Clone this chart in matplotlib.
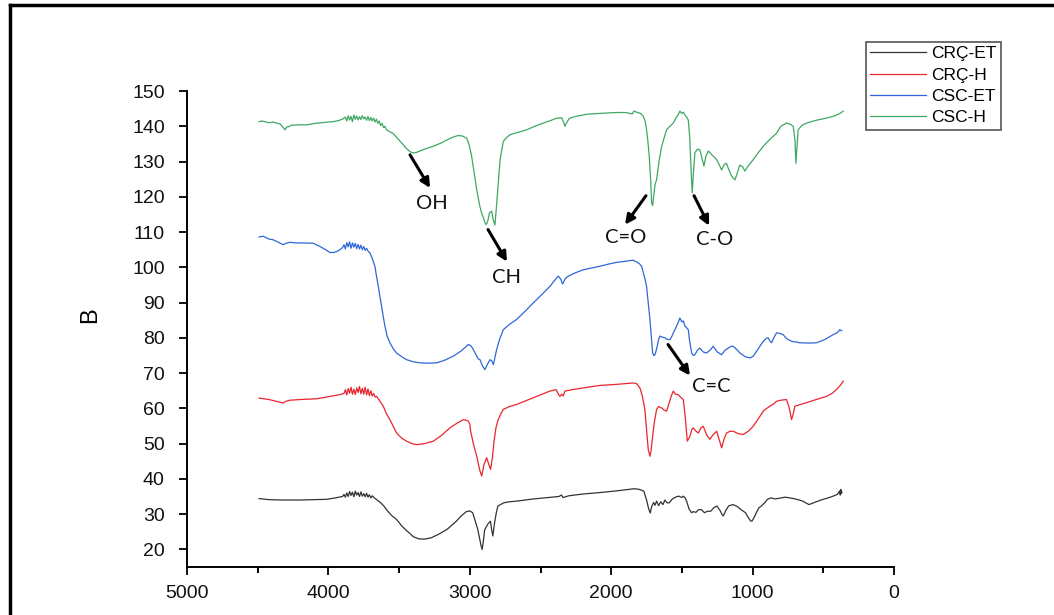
import matplotlib
matplotlib.use("Agg")
import matplotlib.pyplot as plt
from matplotlib.lines import Line2D

# ---------------- data (wavenumber cm-1, value) ----------------
crc_et = [(4490,34.4),(4420,34.1),(4327,34.0),(4200,34.0),(4100,34.1),(4012,34.2),(3950,34.6),(3900,35.0),
    (3890,35.6),(3880,34.8),(3870,36.0),(3860,35.0),(3850,36.4),(3840,35.3),(3830,36.2),(3820,34.9),(3810,36.5),
    (3800,35.4),(3790,36.1),(3780,35.0),(3770,36.3),(3760,35.1),(3750,35.8),(3740,34.9),(3730,35.9),(3720,34.8),
    (3710,35.5),(3700,34.6),(3690,35.2),(3675,34.6),(3650,33.8),(3630,33.2),(3608,32.3),(3580,30.8),(3550,29.5),
    (3518,28.5),(3480,26.6),(3450,25.4),(3429,24.7),(3400,23.6),(3362,23.0),(3320,22.9),(3272,23.3),(3220,24.3),
    (3160,25.7),(3100,27.8),(3060,29.5),(3025,30.7),(3000,30.9),(2980,30.4),(2965,28.5),(2944,25.7),(2930,23.0),
    (2920,21.0),(2913,20.0),(2905,22.0),(2895,25.5),(2881,26.6),(2870,27.3),(2854,28.0),(2845,25.5),(2837,23.8),
    (2825,27.5),(2812,30.5),(2801,32.3),(2760,33.2),(2720,33.5),(2666,33.7),(2550,34.3),(2420,34.8),(2370,35.0),
    (2352,35.4),(2340,34.7),(2300,35.2),(2200,35.7),(2083,36.1),(1960,36.6),(1900,36.9),(1836,37.2),(1800,37.0),
    (1769,36.5),(1750,34.0),(1735,31.5),(1724,30.3),(1715,32.0),(1700,33.3),(1690,32.5),(1679,33.7),(1665,32.4),
    (1650,33.5),(1634,32.7),(1620,34.0),(1605,33.2),(1589,33.2),(1570,34.2),(1555,34.6),(1540,34.9),(1522,35.1),
    (1500,34.7),(1490,35.1),(1477,34.6),(1465,33.5),(1450,31.5),(1432,30.4),(1420,30.7),(1400,30.5),(1385,31.2),
    (1364,31.3),(1340,30.4),(1320,30.8),(1297,30.8),(1275,31.8),(1252,32.3),(1230,31.0),(1215,29.8),(1207,29.5),
    (1190,31.0),(1170,32.3),(1140,32.7),(1110,32.2),(1080,31.2),(1050,30.4),(1030,29.0),(1015,28.1),(1005,28.0),
    (990,29.0),(970,30.7),(955,31.8),(938,32.3),(910,33.4),(895,34.2),(871,34.6),(840,34.3),(800,34.6),(770,34.8),
    (736,34.6),(700,34.3),(670,34.0),(646,33.7),(620,33.1),(601,32.7),(570,33.2),(530,33.8),(500,34.2),(466,34.6),
    (430,35.1),(400,35.6),(385,36.6),(380,35.4),(376,37.0),(372,35.8),(368,36.2)]

crc_h = [(4490,62.9),(4420,62.5),(4350,61.8),(4319,61.5),(4300,62.0),(4272,62.3),(4200,62.5),(4083,62.7),
    (4000,63.3),(3918,63.9),(3890,64.2),(3880,65.3),(3870,63.8),(3860,65.6),(3850,64.3),(3840,66.0),(3830,64.0),
    (3820,65.4),(3810,63.9),(3800,65.8),(3790,64.5),(3780,66.2),(3770,64.1),(3760,65.7),(3750,64.0),(3740,66.0),
    (3730,63.8),(3720,65.5),(3710,63.6),(3700,65.0),(3690,63.5),(3680,64.2),(3670,63.2),(3659,63.4),(3640,62.3),
    (3612,60.6),(3590,58.5),(3565,56.8),(3540,54.8),(3518,53.0),(3480,51.5),(3447,50.7),(3410,50.0),(3376,49.7),
    (3320,50.0),(3258,50.7),(3200,52.3),(3140,54.5),(3090,55.8),(3046,56.8),(3025,56.6),(3011,56.4),(3000,55.5),
    (2994,53.5),(2975,50.0),(2951,46.4),(2930,42.5),(2916,40.8),(2900,44.0),(2881,46.0),(2865,44.0),(2853,42.7),
    (2840,46.0),(2830,50.2),(2815,54.5),(2799,56.8),(2780,58.5),(2763,59.7),(2720,60.5),(2669,61.1),(2550,63.0),
    (2433,64.9),(2390,65.3),(2370,63.8),(2363,63.4),(2350,64.0),(2340,63.5),(2327,64.9),(2260,65.4),(2197,65.8),
    (2079,66.5),(1962,66.8),(1900,67.0),(1844,67.2),(1820,67.0),(1797,65.8),(1780,63.5),(1762,59.7),(1750,54.0),
    (1738,48.3),(1726,46.4),(1718,48.0),(1707,52.1),(1695,56.0),(1679,59.7),(1665,60.5),(1643,60.1),(1625,59.5),
    (1608,59.2),(1590,61.5),(1575,63.5),(1561,64.9),(1545,64.0),(1526,63.9),(1505,63.0),(1490,62.5),(1475,57.0),
    (1462,50.7),(1450,51.5),(1443,52.1),(1430,54.0),(1420,54.5),(1400,53.5),(1384,53.0),(1365,54.5),(1349,54.9),
    (1325,52.5),(1302,51.2),(1280,52.5),(1254,53.5),(1235,51.0),(1219,48.8),(1200,51.5),(1184,53.0),(1160,53.5),
    (1137,53.5),(1100,52.8),(1066,52.6),(1030,53.5),(996,54.9),(960,57.0),(925,59.2),(900,60.0),(878,60.6),
    (850,61.3),(831,62.0),(800,62.3),(760,62.5),(740,60.0),(725,56.8),(712,58.5),(701,60.6),(660,61.1),(619,61.6),
    (550,62.5),(477,63.4),(440,64.2),(407,65.3),(380,66.5),(359,67.7)]

csc_et = [(4490,108.6),(4460,108.8),(4420,108.0),(4390,107.8),(4350,107.0),(4319,106.4),(4300,106.8),(4272,107.1),
    (4230,106.9),(4154,106.9),(4106,106.8),(4060,105.9),(4020,105.0),(3989,104.2),(3960,104.2),(3935,104.6),
    (3918,105.0),(3900,105.6),(3890,106.4),(3880,105.2),(3870,107.0),(3860,105.8),(3850,107.2),(3840,105.4),
    (3830,106.9),(3820,105.7),(3810,106.8),(3800,105.3),(3790,106.5),(3780,105.2),(3770,106.3),(3760,105.0),
    (3750,105.9),(3740,104.8),(3730,105.4),(3720,104.6),(3706,104.1),(3690,102.5),(3671,100.3),(3660,97.5),
    (3647,94.6),(3635,91.5),(3624,89.0),(3612,86.0),(3600,83.3),(3585,80.5),(3565,78.6),(3540,76.8),(3518,75.7),
    (3480,74.6),(3447,73.8),(3400,73.2),(3353,72.9),(3300,72.8),(3235,72.9),(3180,73.6),(3117,74.8),(3060,76.3),
    (3011,78.1),(2995,77.8),(2981,77.1),(2960,75.5),(2940,74.0),(2928,73.8),(2910,72.0),(2893,71.0),(2875,72.5),
    (2857,73.8),(2845,73.5),(2833,72.4),(2822,74.5),(2810,76.7),(2790,79.5),(2763,82.3),(2720,83.8),(2669,85.2),
    (2610,87.5),(2551,89.9),(2490,92.3),(2433,94.6),(2400,96.3),(2374,97.5),(2355,96.5),(2345,95.3),(2339,95.6),
    (2325,96.8),(2303,97.5),(2250,98.5),(2197,99.3),(2140,99.8),(2079,100.3),(2020,100.9),(1962,101.4),
    (1900,101.7),(1867,101.9),(1844,102.0),(1820,101.5),(1800,101.0),(1785,100.3),(1773,98.5),(1760,96.5),
    (1750,94.6),(1738,89.9),(1726,85.2),(1716,80.0),(1707,75.7),(1698,75.0),(1690,75.2),(1675,77.5),(1665,79.5),
    (1655,80.5),(1640,80.2),(1620,80.0),(1600,79.5),(1585,79.5),(1570,80.5),(1560,81.5),(1549,82.3),(1530,84.0),
    (1514,85.6),(1500,84.5),(1490,84.8),(1478,83.3),(1465,82.8),(1455,82.3),(1445,79.0),(1431,75.7),(1420,75.0),
    (1408,75.2),(1390,76.5),(1373,77.1),(1350,76.0),(1326,75.7),(1300,76.5),(1279,77.6),(1250,76.0),(1219,75.2),
    (1195,76.5),(1172,77.1),(1150,77.6),(1137,77.6),(1110,76.6),(1090,75.7),(1050,74.6),(1019,74.3),(995,74.8),
    (972,76.2),(945,77.8),(925,79.0),(905,79.8),(890,80.0),(876,79.0),(866,78.6),(850,80.0),(831,81.4),(810,81.3),
    (784,80.9),(760,79.8),(725,79.0),(690,78.8),(666,78.6),(600,78.5),(548,78.6),(490,79.5),(430,80.9),(400,81.5),
    (383,82.3),(370,82.0)]

csc_h = [(4490,141.3),(4470,141.5),(4420,141.0),(4392,141.2),(4340,140.6),(4320,139.6),(4307,139.0),(4295,139.8),
    (4280,139.9),(4260,140.3),(4200,140.4),(4150,140.4),(4100,140.8),(4050,141.0),(4000,141.2),(3967,141.3),
    (3930,141.6),(3900,142.0),(3880,142.6),(3870,141.5),(3860,143.0),(3850,141.8),(3840,142.8),(3830,141.3),
    (3820,143.2),(3810,142.0),(3800,142.9),(3790,141.8),(3780,142.7),(3770,141.9),(3760,143.0),(3750,142.1),
    (3740,142.6),(3730,141.7),(3720,142.8),(3710,141.6),(3700,142.5),(3690,141.5),(3680,142.3),(3670,141.2),
    (3660,142.0),(3650,140.8),(3640,141.5),(3630,140.2),(3620,140.8),(3610,139.6),(3600,140.0),(3590,139.0),
    (3580,138.8),(3560,138.3),(3543,138.0),(3510,136.5),(3482,135.2),(3450,133.8),(3423,132.8),(3400,132.4),
    (3376,132.6),(3340,133.2),(3300,133.8),(3260,134.3),(3200,135.3),(3163,136.1),(3120,136.9),(3081,137.4),
    (3050,137.2),(3022,136.6),(3005,134.8),(2987,131.5),(2970,127.0),(2951,122.0),(2930,117.5),(2915,115.2),
    (2907,114.4),(2895,113.0),(2885,112.1),(2875,112.8),(2860,115.5),(2845,115.9),(2835,113.5),(2822,112.0),
    (2810,118.0),(2795,126.0),(2786,130.5),(2763,135.7),(2740,136.8),(2716,137.6),(2650,138.4),(2598,139.0),
    (2540,140.0),(2480,140.9),(2430,141.6),(2386,142.3),(2350,142.4),(2335,141.0),(2327,140.0),(2318,140.8),
    (2300,142.0),(2291,142.3),(2250,142.8),(2174,143.4),(2100,143.6),(1962,143.9),(1900,143.9),(1850,143.5),
    (1840,144.3),(1820,144.0),(1790,143.6),(1773,142.8),(1760,141.5),(1750,139.0),(1740,135.5),(1731,131.5),
    (1720,124.0),(1714,118.2),(1707,117.5),(1700,120.0),(1690,123.5),(1679,124.8),(1660,130.5),(1643,134.3),
    (1625,136.8),(1608,139.0),(1585,140.0),(1561,140.9),(1540,142.5),(1525,143.4),(1514,144.3),(1500,143.6),
    (1490,144.0),(1478,143.2),(1465,142.5),(1455,141.8),(1445,137.0),(1438,130.5),(1432,125.0),(1427,121.1),
    (1420,126.0),(1408,132.5),(1390,133.5),(1373,133.3),(1355,130.5),(1344,128.7),(1330,131.5),(1313,133.0),
    (1290,132.0),(1270,131.2),(1254,130.5),(1235,129.0),(1219,127.6),(1200,129.2),(1185,129.5),(1172,128.1),
    (1150,126.0),(1135,125.2),(1125,124.8),(1110,126.5),(1090,129.0),(1070,128.5),(1055,127.3),(1030,128.8),
    (996,130.5),(960,132.5),(925,134.3),(880,136.2),(831,138.0),(800,140.0),(760,140.9),(730,140.5),(713,140.0),
    (700,136.0),(694,129.5),(688,133.0),(678,139.0),(650,140.3),(619,140.9),(550,141.7),(480,142.3),(430,142.8),
    (400,143.3),(380,143.7),(359,144.3)]

series_names = ["CRÇ-ET", "CRÇ-H", "CSC-ET", "CSC-H"]
series_data = [crc_et, crc_h, csc_et, csc_h]
series_colors = ["#333333", "#e8262e", "#2f66d8", "#3ea862"]

xticks = [5000, 4000, 3000, 2000, 1000, 0]
yticks = list(range(20, 151, 10))

# annotations: label, arrow tail (x,y), arrow head (x,y), text position (x,y)
ann_labels = ["OH", "CH", "C=O", "C-O", "C=C"]
ann_tail = [(3423, 131.9), (2871, 110.7), (1754, 120.3), (1414, 120.3), (1598, 78.1)]
ann_head = [(3281, 122.5), (2737, 101.6), (1902, 112.1), (1308, 111.8), (1443, 69.3)]
ann_text = [(3267, 118.0), (2737, 97.0), (1895, 108.5), (1266, 108.0), (1294, 66.3)]

# ---------------- figure ----------------
W, H = 1054, 615
fig = plt.figure(figsize=(W / 100, H / 100), dpi=100)
ax = fig.add_axes([187 / W, 1 - 567 / H, (894 - 187) / W, (567 - 91) / H])

for name, data, col in zip(series_names, series_data, series_colors):
    xs = [p[0] for p in data]
    ys = [p[1] for p in data]
    ax.plot(xs, ys, color=col, lw=0.9, label=name)

ax.set_xlim(5000, 0)
ax.set_ylim(15, 150)
ax.set_xticks(xticks)
ax.set_xticks([4500, 3500, 2500, 1500, 500], minor=True)
ax.set_yticks(yticks)

for s in ["top", "right"]:
    ax.spines[s].set_visible(False)
for s in ["left", "bottom"]:
    ax.spines[s].set_linewidth(1.4)

tick_font = "Liberation Sans"
ax.tick_params(axis="both", which="major", direction="out", length=6, width=1.4,
               labelsize=14, colors="#111111")
ax.tick_params(axis="y", which="major", pad=10)
ax.tick_params(axis="x", which="major", pad=7)
ax.tick_params(axis="x", which="minor", direction="out", length=4, width=1.4)
for lab in ax.get_xticklabels() + ax.get_yticklabels():
    lab.set_fontfamily(tick_font)

ax.set_ylabel("B", fontsize=17, family=tick_font)
ax.yaxis.set_label_coords((101 - 187) / (894 - 187), (567 - 315) / (567 - 91))

for lab, t, hd, tp in zip(ann_labels, ann_tail, ann_head, ann_text):
    ax.annotate("", xy=hd, xytext=t,
                arrowprops=dict(arrowstyle="-|>", color="black", lw=2.2, mutation_scale=14,
                                shrinkA=0, shrinkB=0))
    ax.text(tp[0], tp[1], lab, ha="center", va="center", fontsize=14.5, family="Lato", color="#111111")

leg = fig.legend(loc="upper left", bbox_to_anchor=(866 / W, 1 - 42 / H), borderaxespad=0,
                 fancybox=False, edgecolor="#555555", framealpha=1,
                 prop={"family": "Liberation Sans", "size": 12.5},
                 handlelength=3.2, handletextpad=0.3, labelspacing=0.35, borderpad=0.25)
leg.get_frame().set_linewidth(1.2)

# outer frame (top and left edges visible)
fig.add_artist(Line2D([10 / W, 1], [1 - 5 / H, 1 - 5 / H], transform=fig.transFigure, color="black", lw=2.5))
fig.add_artist(Line2D([10 / W, 10 / W], [0, 1 - 5 / H], transform=fig.transFigure, color="black", lw=2.5))

fig.savefig("out.png", dpi=100)
